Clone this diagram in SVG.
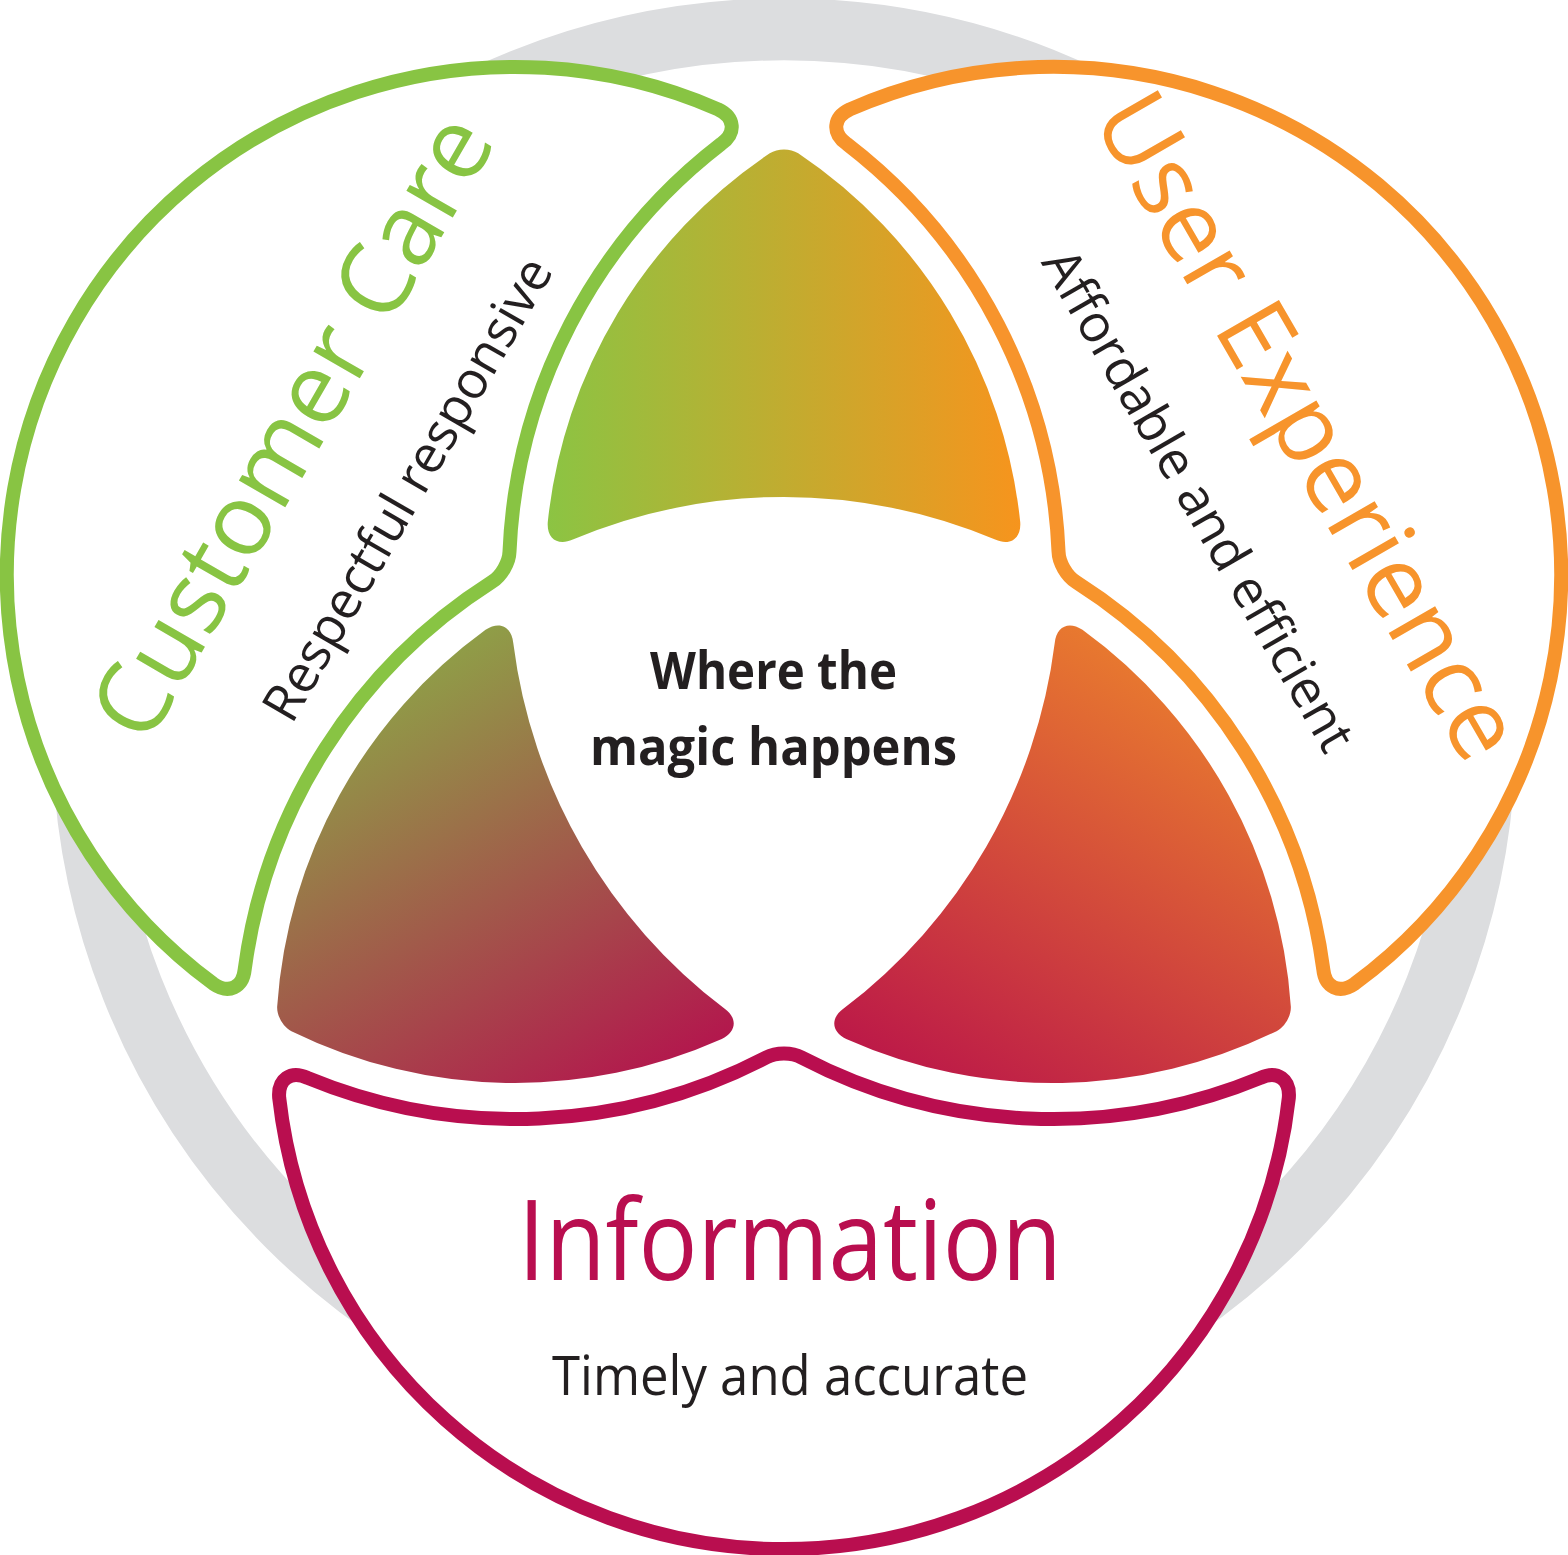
<svg xmlns="http://www.w3.org/2000/svg" width="1568" height="1555" viewBox="0 0 1568 1555">
  <style>
    .region { fill: #ffffff; stroke-width: 14; stroke-linejoin: round; }
    .head { font-family: "Open Sans", "Noto Sans", "DejaVu Sans", sans-serif; font-weight: 400; text-anchor: middle; }
    .sub { font-family: "Open Sans", "Noto Sans", "DejaVu Sans", sans-serif; font-weight: 400; fill: #231f20; text-anchor: middle; }
    .magic { font-family: "Open Sans", "Noto Sans", "DejaVu Sans", sans-serif; font-weight: 700; fill: #231f20; text-anchor: middle; }
  </style>
  <defs>
    <path id="regionShape" d="M718.11,109.35 A508,508 0 0 0 213.28,983.72 C228.71,994.31 242.86,987.76 244.74,969.15 A544,544 0 0 1 491.94,581.92 C501.32,576.21 509.22,562.53 509.51,551.54 A544,544 0 0 1 721.21,143.87 C736.38,132.94 734.99,117.41 718.11,109.35 Z"/>
    <path id="lensShape" d="M547.77,522.06 A508,508 0 0 1 769.74,153.30 C777.58,148.22 790.42,148.22 798.26,153.30 A508,508 0 0 1 1020.23,522.06 C1021.46,538.51 1010.18,546.39 995.16,539.56 A544,544 0 0 0 572.84,539.56 C557.82,546.39 546.54,538.51 547.77,522.06 Z"/>
    <linearGradient id="gTop" gradientUnits="userSpaceOnUse" x1="546" y1="0" x2="1022" y2="0">
      <stop offset="0" stop-color="#8BC443"/>
      <stop offset="1" stop-color="#F7941D"/>
    </linearGradient>
    <linearGradient id="gLeft" gradientUnits="userSpaceOnUse" x1="546" y1="0" x2="1022" y2="0">
      <stop offset="0" stop-color="#B3174D"/>
      <stop offset="1" stop-color="#8F9E47"/>
    </linearGradient>
    <linearGradient id="gRight" gradientUnits="userSpaceOnUse" x1="546" y1="0" x2="1022" y2="0">
      <stop offset="0" stop-color="#E8792F"/>
      <stop offset="1" stop-color="#BC1948"/>
    </linearGradient>
  </defs>

  <rect width="1568" height="1555" fill="#ffffff"/>

  <g id="background-ring">
    <circle cx="784" cy="730.3" r="701" fill="none" stroke="#DCDDDF" stroke-width="62"/>
  </g>

  <g id="customer-care">
    <use href="#regionShape" class="region" stroke="#88C443"/>
  </g>
  <g id="user-experience">
    <use href="#regionShape" class="region" stroke="#F7942C" transform="rotate(120 784 730.3)"/>
  </g>
  <g id="information">
    <use href="#regionShape" class="region" stroke="#B90E4F" transform="rotate(-120 784 730.3)"/>
  </g>

  <g id="overlap-care-experience">
    <use href="#lensShape" fill="url(#gTop)"/>
  </g>
  <g id="overlap-care-information">
    <use href="#lensShape" fill="url(#gLeft)" transform="rotate(-120 784 730.3)"/>
  </g>
  <g id="overlap-experience-information">
    <use href="#lensShape" fill="url(#gRight)" transform="rotate(120 784 730.3)"/>
  </g>

  <g id="labels">
    <text class="head" fill="#88C443" font-size="100" transform="translate(322 444) rotate(-60)" textLength="700" lengthAdjust="spacingAndGlyphs">Customer Care</text>
    <text class="sub" font-size="52" transform="translate(423 498) rotate(-60)" textLength="525" lengthAdjust="spacingAndGlyphs">Respectful responsive</text>
    <text class="head" fill="#F7942C" font-size="100" transform="translate(1279 443) rotate(60)" textLength="750" lengthAdjust="spacingAndGlyphs">User Experience</text>
    <text class="sub" font-size="52" transform="translate(1183 509) rotate(60)" textLength="570" lengthAdjust="spacingAndGlyphs">Affordable and efficient</text>
    <text class="head" fill="#B90E4F" font-size="112" x="790" y="1280" textLength="544" lengthAdjust="spacingAndGlyphs">Information</text>
    <text class="sub" font-size="54" x="790" y="1395" textLength="476" lengthAdjust="spacingAndGlyphs">Timely and accurate</text>
  </g>

  <g id="center">
    <text class="magic" font-size="52" x="773.5" y="689" textLength="247" lengthAdjust="spacingAndGlyphs">Where the</text>
    <text class="magic" font-size="52" x="773.5" y="765" textLength="367" lengthAdjust="spacingAndGlyphs">magic happens</text>
  </g>
</svg>
